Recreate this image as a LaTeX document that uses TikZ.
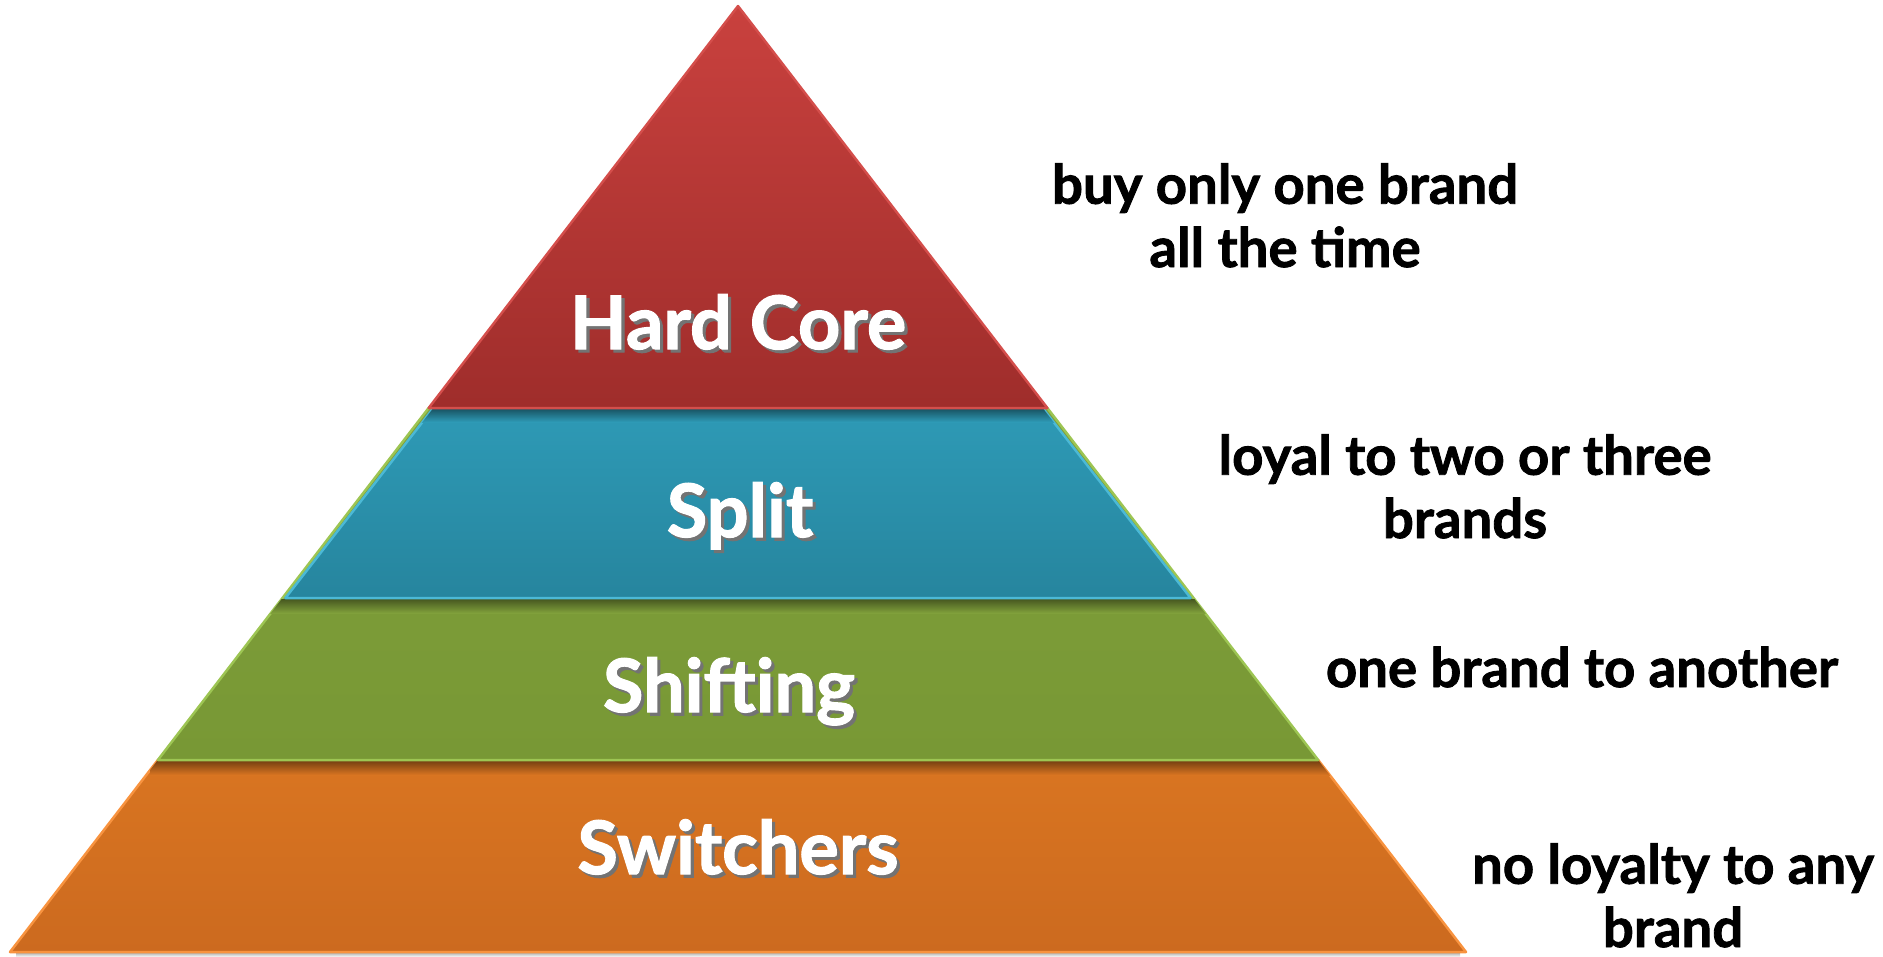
\documentclass[tikz,border=0pt]{standalone}
\usepackage{fontspec}
\setmainfont{Lato}[BoldFeatures={FakeBold=1.5}]
\usepackage{tikz}
\usetikzlibrary{calc}

\definecolor{coretop}{HTML}{C9413E}
\definecolor{corebot}{HTML}{9F2D2B}
\definecolor{coreline}{HTML}{D44E4B}
\definecolor{splittop}{HTML}{2E9AB6}
\definecolor{splitbot}{HTML}{26859E}
\definecolor{splitline}{HTML}{4BB9D6}
\definecolor{shifttop}{HTML}{80A03B}
\definecolor{shiftbot}{HTML}{789835}
\definecolor{shiftline}{HTML}{9DC553}
\definecolor{switchtop}{HTML}{D97521}
\definecolor{switchbot}{HTML}{CC6A1F}
\definecolor{switchline}{HTML}{F8933F}

\newcommand{\shadowtext}[1]{\makebox[0pt][l]{\hspace{0.9pt}\raisebox{-0.9pt}{\color{black!55}#1}}#1}

\tikzset{
	band/.style={line width=0.7pt, line join=round},
	tier/.style={text=white, anchor=base, inner sep=0pt,
		font=\bfseries\fontsize{21}{25}\selectfont},
	note/.style={text=black, anchor=base, inner sep=0pt, align=center,
		font=\bfseries\fontsize{15.5}{18}\selectfont}
}

\begin{document}
\begin{tikzpicture}[x=0.01cm, y=-0.01cm]
				\useasboundingbox (0,0) rectangle (1883,956);
				\coordinate (apex) at (738,6);
				\coordinate (c1l) at (428.6,408);
				\coordinate (c1r) at (1047.4,408);
				\coordinate (c2l) at (282.4,598);
				\coordinate (c2r) at (1193.6,598);
				\coordinate (c3l) at (157.8,760);
				\coordinate (c3r) at (1318.2,760);
				\coordinate (c4l) at (10,952);
				\coordinate (c4r) at (1466,952);
				% shadow under the base
				\shade[top color=black!35, bottom color=white] (16,952) rectangle (1460,957);
				% bottom tier
				\draw[band, switchline, top color=switchtop, bottom color=switchbot]
					(c3l) -- (c3r) -- (c4r) -- (c4l) -- cycle;
				\begin{scope}
					\clip (c3l) -- (c3r) -- (c4r) -- (c4l) -- cycle;
					\shade[top color=switchtop!55!black, bottom color=switchtop] (150,761) rectangle (1330,775);
				\end{scope}
				% green tier runs up behind the blue one
				\draw[band, shiftline, top color=shifttop, bottom color=shiftbot]
					(c1l) -- (c1r) -- (c3r) -- (c3l) -- cycle;
				\begin{scope}
					\clip (c2l) -- (c2r) -- (c3r) -- (c3l) -- cycle;
					\shade[top color=shifttop!55!black, bottom color=shifttop] (270,599) rectangle (1210,613);
				\end{scope}
				\draw[band, splitline, top color=splittop, bottom color=splitbot]
					($(c1l)+(4,1)$) -- ($(c1r)+(-4,1)$) -- ($(c2r)+(-3,0)$) -- ($(c2l)+(3,0)$) -- cycle;
				\begin{scope}
					\clip ($(c1l)+(4,1)$) -- ($(c1r)+(-4,1)$) -- ($(c2r)+(-3,0)$) -- ($(c2l)+(3,0)$) -- cycle;
					\shade[top color=splittop!55!black, bottom color=splittop] (420,409) rectangle (1060,422);
				\end{scope}
				% top tier
				\draw[band, coreline, top color=coretop, bottom color=corebot]
					(apex) -- (c1r) -- (c1l) -- cycle;
				\node[tier] (hardcore) at (738,349) {\shadowtext{Hard Core}};
				\node[tier] (split) at (740,537) {\shadowtext{Split}};
				\node[tier] (shifting) at (729,712) {\shadowtext{Shifting}};
				\node[tier] (switchers) at (738,874) {\shadowtext{Switchers}};
				% base of a two-line note is its last line
				\node[note] (hardnote) at (1285,267) {buy only one brand\\all the time};
				\node[note] (splitnote) at (1465,538) {loyal to two or three\\brands};
				\node[note] (shiftnote) at (1582,687) {one brand to another};
				\node[note] (switchnote) at (1673,947) {no loyalty to any\\brand};
\end{tikzpicture}
\end{document}
